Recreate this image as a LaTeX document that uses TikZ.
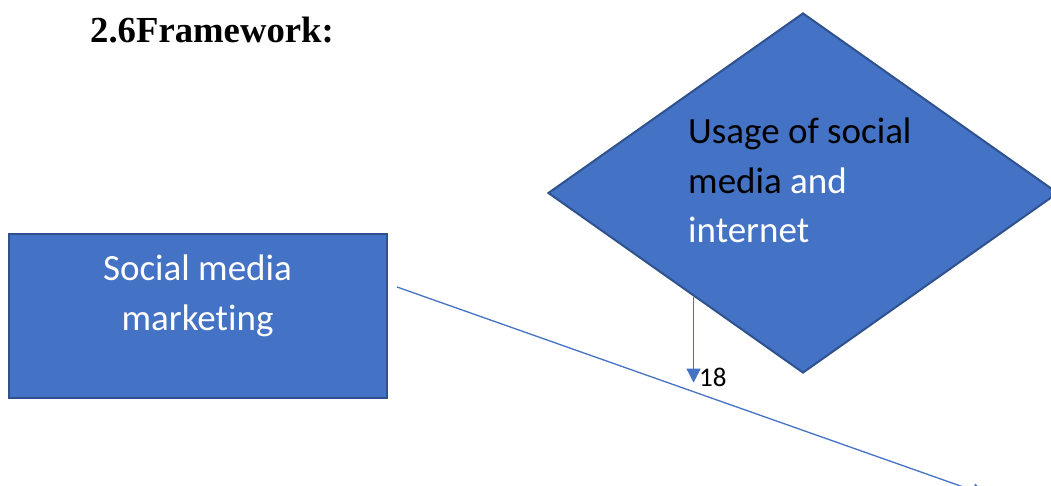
\documentclass[tikz,border=0pt]{standalone}
\usepackage{fontspec}
\setmainfont{Carlito}[Ligatures=NoCommon]
\newfontfamily\titlefont{Liberation Serif}
\usetikzlibrary{shapes.geometric,arrows.meta,calc}
\definecolor{boxblue}{HTML}{4472C4}
\definecolor{boxedge}{HTML}{2F528F}
\begin{document}
\begin{tikzpicture}[x=1pt,y=-1pt,
  shapebox/.style={fill=boxblue,draw=boxedge,line width=2pt,inner sep=0pt},
  link/.style={draw=boxblue,line width=1.3pt,-{Triangle[width=14pt,length=14pt]}},
  bigtext/.style={font=\fontsize{37}{49.5}\selectfont,inner sep=0pt}]
\useasboundingbox (0,0) rectangle (1051,486);
\clip (0,0) rectangle (1051,486);
% title
\node[anchor=base west,inner sep=0pt,font=\titlefont\bfseries\fontsize{36.7}{40}\selectfont] (title) at (90,43) {2.6Framework:};
% rectangle
\node[shapebox,rectangle,minimum width=378pt,minimum height=163pt] (smm) at (197.5,316) {};
\node[bigtext,text=white,align=center,anchor=base] (smmtext) at (197.5,330) {Social media\\marketing};
% diamond
\node[shapebox,diamond,minimum width=510pt,minimum height=360pt] (dia) at (803,193) {};
\node[bigtext,align=left,anchor=base west] (diatext) at (688,243) {Usage of social\\media \textcolor{white}{and}\\\textcolor{white}{internet}};
% arrow 18
\coordinate (a18s) at ($(dia.west)!0.5725!(dia.south)$);
\coordinate (a18e) at ($(a18s)+(0,86)$);
\draw[link] (a18s) -- (a18e);
\node[anchor=base west,inner sep=0pt,font=\fontsize{27}{30}\selectfont] (lab18) at (699,386) {18};
% long arrow
\coordinate (ls) at (397,287);
\coordinate (le) at (986,495);
\draw[link] (ls) -- (le);
\end{tikzpicture}
\end{document}
